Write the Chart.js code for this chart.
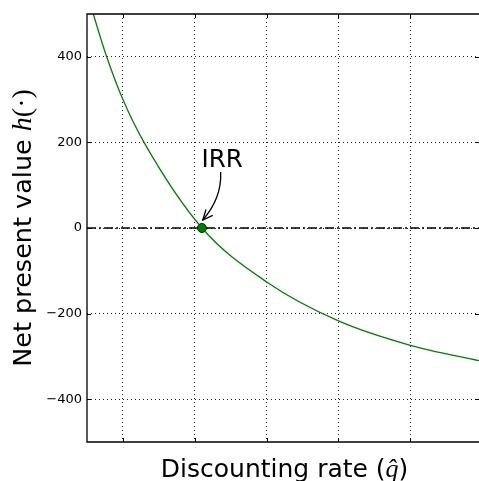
<!DOCTYPE html>
<html><head><meta charset="utf-8">
<script src="https://cdn.jsdelivr.net/npm/chart.js@4.4.1/dist/chart.umd.min.js"></script>
<style>html,body{margin:0;padding:0;background:#fff;overflow:hidden}</style>
</head><body>
<canvas id="c" width="479" height="481" style="width:479px;height:481px;display:block"></canvas>
<script>
// ---- data ----
const rateValues = [0.025, 0.0294, 0.0387, 0.05, 0.0647, 0.105, 0.15, 0.2, 0.25, 0.2978];
const npvValues  = [552, 500, 400, 300, 200, 0, -126, -217, -274, -310];
const irrRate = [0.105];
const irrValue = [0];
const zeroLineRates = [0.025, 0.2978];
const zeroLineValues = [0, 0];
const xTickValues = [0.05, 0.10, 0.15, 0.20, 0.25];
const yTickValues = [-400, -200, 0, 200, 400];
const xRange = [0.025, 0.2978];
const yRange = [-500, 500];
const xTitleParts = ['Discounting rate (', 'q\u0302', ')'];
const yTitleParts = ['Net present value ', 'h', '(\u00B7)'];
const annotationText = 'IRR';

const toPts = (xs, ys) => xs.map((x, i) => ({x: x, y: ys[i]}));

const SANS = '"DejaVu Sans", sans-serif';

function drawParts(ctx, parts, fonts, cx, baseline) {
  let widths = parts.map((t, i) => { ctx.font = fonts[i]; return ctx.measureText(t).width; });
  let total = widths.reduce((a, b) => a + b, 0);
  let x = cx - total / 2;
  ctx.textBaseline = 'alphabetic';
  ctx.textAlign = 'left';
  parts.forEach((t, i) => { ctx.font = fonts[i]; ctx.fillText(t, x, baseline); x += widths[i]; });
}

const decor = {
  id: 'decor',
  afterDatasetsDraw(chart) {
    const ctx = chart.ctx;
    const a = chart.chartArea;
    const xs = chart.scales.x, ys = chart.scales.y;
    ctx.save();
    // frame (top, left, bottom)
    ctx.strokeStyle = '#000';
    ctx.lineWidth = 1.3;
    ctx.beginPath();
    ctx.moveTo(a.right + 2, a.top); ctx.lineTo(a.left, a.top);
    ctx.lineTo(a.left, a.bottom); ctx.lineTo(a.right + 2, a.bottom);
    ctx.stroke();
    // inward tick marks
    ctx.lineWidth = 1;
    ctx.beginPath();
    xTickValues.forEach(v => {
      const px = Math.round(xs.getPixelForValue(v)) + 0.5;
      ctx.moveTo(px, a.bottom); ctx.lineTo(px, a.bottom - 4);
      ctx.moveTo(px, a.top); ctx.lineTo(px, a.top + 4);
    });
    yTickValues.forEach(v => {
      const py = Math.round(ys.getPixelForValue(v)) + 0.5;
      ctx.moveTo(a.left, py); ctx.lineTo(a.left + 4, py);
      ctx.moveTo(a.right, py); ctx.lineTo(a.right - 4, py);
    });
    ctx.stroke();
    // faint marks under the axis
    ctx.fillStyle = '#c8c8c8';
    xTickValues.forEach(v => {
      const px = Math.round(xs.getPixelForValue(v));
      ctx.fillRect(px, a.bottom + 5, 1, 1);
    });
    // IRR annotation
    const p0x = xs.getPixelForValue(irrRate[0]);
    const p0y = ys.getPixelForValue(irrValue[0]);
    ctx.fillStyle = '#000';
    ctx.font = '24.5px ' + SANS;
    ctx.textAlign = 'left';
    ctx.textBaseline = 'alphabetic';
    ctx.fillText(annotationText, p0x - 0.5, p0y - 61);
    const sx = p0x + 18.7, sy = p0y - 56;
    const cx = p0x + 20, cy = p0y - 30;
    const ex = p0x + 0.8, ey = p0y - 8;
    ctx.lineWidth = 1.3;
    ctx.strokeStyle = '#000';
    ctx.beginPath();
    ctx.moveTo(sx, sy); ctx.quadraticCurveTo(cx, cy, ex, ey);
    ctx.stroke();
    const ang = Math.atan2(cy - ey, cx - ex);
    const L = 11, spread = 24 * Math.PI / 180;
    ctx.beginPath();
    ctx.moveTo(ex + L * Math.cos(ang - spread), ey + L * Math.sin(ang - spread));
    ctx.lineTo(ex, ey);
    ctx.lineTo(ex + L * Math.cos(ang + spread), ey + L * Math.sin(ang + spread));
    ctx.stroke();
    // axis titles
    ctx.fillStyle = '#000';
    const xCenter = xs.getPixelForValue((xRange[0] + 0.3) / 2);
    drawParts(ctx, xTitleParts,
      ['25px ' + SANS, 'italic 26px "Liberation Serif", serif', '25px ' + SANS],
      xCenter, 476.5);
    ctx.save();
    ctx.translate(31, ys.getPixelForValue(0));
    ctx.rotate(-Math.PI / 2);
    drawParts(ctx, yTitleParts,
      ['25.5px ' + SANS, 'italic 28px "Liberation Serif", serif', '28px "Liberation Serif", serif'],
      0, 0);
    ctx.restore();
    ctx.restore();
  }
};

new Chart(document.getElementById('c'), {
  type: 'line',
  data: {
    datasets: [
      {
        data: toPts(zeroLineRates, zeroLineValues),
        borderColor: '#000', borderWidth: 1.5, borderDash: [9, 3, 2, 3],
        pointRadius: 0, fill: false, order: 3
      },
      {
        data: toPts(rateValues, npvValues),
        borderColor: '#008000', borderWidth: 1.3, pointRadius: 0,
        cubicInterpolationMode: 'monotone', fill: false, order: 2
      },
      {
        data: toPts(irrRate, irrValue),
        showLine: false, pointRadius: 4.5, pointBackgroundColor: '#008000',
        pointBorderColor: '#002a00', pointBorderWidth: 1, order: 1
      }
    ]
  },
  options: {
    responsive: false,
    animation: false,
    devicePixelRatio: 1,
    layout: { autoPadding: false, padding: { top: 14, right: 0, left: 0, bottom: 0 } },
    plugins: { legend: { display: false }, tooltip: { enabled: false }, title: { display: false } },
    scales: {
      x: {
        type: 'linear', min: xRange[0], max: xRange[1],
        afterBuildTicks: s => { s.ticks = xTickValues.map(v => ({ value: v })); },
        afterFit: s => { s.height = 39; },
        ticks: { display: false },
        border: { display: false, dash: [1, 3] },
        grid: { color: '#222', lineWidth: 1, drawTicks: false }
      },
      y: {
        type: 'linear', min: yRange[0], max: yRange[1],
        afterBuildTicks: s => { s.ticks = yTickValues.map(v => ({ value: v })); },
        afterFit: s => { s.width = 87; },
        ticks: {
          color: '#000', padding: 5,
          font: { family: 'DejaVu Sans', size: 13 },
          callback: v => String(v).replace('-', '\u2212')
        },
        border: { display: false, dash: [1, 3] },
        grid: { color: '#222', lineWidth: 1, drawTicks: false }
      }
    }
  },
  plugins: [decor]
});
</script>
</body></html>
